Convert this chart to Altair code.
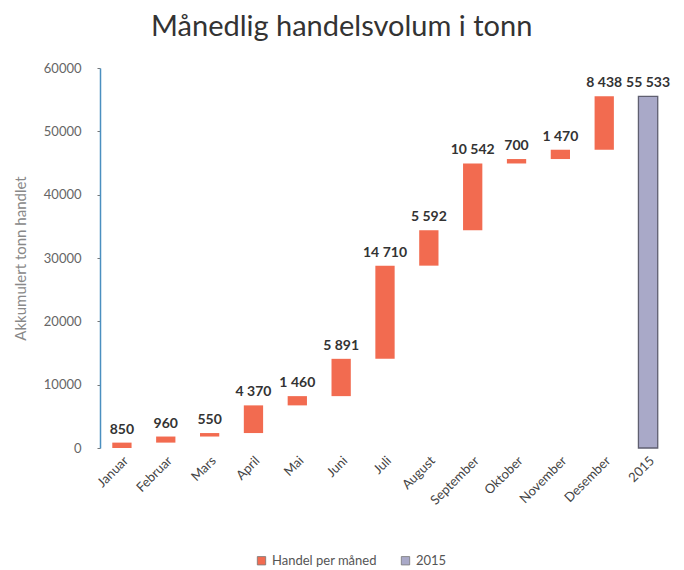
import altair as alt
import pandas as pd

months = ["Januar", "Februar", "Mars", "April", "Mai", "Juni", "Juli", "August",
          "September", "Oktober", "November", "Desember"]
monthly = [850, 960, 550, 4370, 1460, 5891, 14710, 5592, 10542, 700, 1470, 8438]
total_label = "2015"
total_value = 55533
series_names = ["Handel per måned", "2015"]
colors = ["#f26b50", "#a9a9c8"]
y_ticks = [0, 10000, 20000, 30000, 40000, 50000, 60000]


def fmt(v):
    return f"{v:,}".replace(",", " ")


rows = []
cum = 0
for m, v in zip(months, monthly):
    rows.append({"cat": m, "start": cum, "end": cum + v, "top": cum + v,
                 "label": fmt(v), "type": series_names[0]})
    cum += v
rows.append({"cat": total_label, "start": 0, "end": total_value, "top": total_value,
             "label": fmt(total_value), "type": series_names[1]})
df = pd.DataFrame(rows)
order = months + [total_label]

FONT = "Lato"

x = alt.X("cat:N", sort=order, title=None,
          scale=alt.Scale(paddingInner=0.56, paddingOuter=0.28),
          axis=alt.Axis(labelAngle=-45, labelFont=FONT, labelFontSize=13,
                        labelColor="#444444", domain=False, ticks=False, labelPadding=6))
y = alt.Y("start:Q", title="Akkumulert tonn handlet",
          scale=alt.Scale(domain=[0, 60000], nice=False),
          axis=alt.Axis(values=y_ticks, format="d", grid=False, domainColor="#4a8fc0",
                        domainWidth=1.5, tickColor="#777777", tickSize=3, labelFont=FONT,
                        labelFontSize=13, labelColor="#666666", titleFont=FONT,
                        titleFontSize=15, titleFontWeight="normal", titleColor="#888888",
                        titlePadding=15, labelPadding=16))

bars = alt.Chart(df).mark_bar(stroke="#5f5f70", strokeWidth=0).encode(
    x=x,
    y=y,
    y2="end:Q",
    color=alt.Color("type:N", scale=alt.Scale(domain=series_names, range=colors),
                    legend=alt.Legend(title=None, orient="none", direction="horizontal",
                                      legendX=155, legendY=486,
                                      symbolType="square", symbolSize=70,
                                      symbolStrokeColor="#777777", symbolStrokeWidth=0.8,
                                      labelFont=FONT, labelFontSize=13, labelColor="#555555",
                                      columnPadding=22)),
    strokeWidth=alt.condition(alt.datum.type == "2015", alt.value(1.3), alt.value(0)),
)

labels = alt.Chart(df).mark_text(dy=-13, font=FONT, fontSize=14, fontWeight="bold",
                                 color="#333333").encode(
    x=alt.X("cat:N", sort=order),
    y=alt.Y("top:Q"),
    text="label:N",
)

chart = (bars + labels).properties(
    width=570, height=380, background="white",
    title=alt.TitleParams("Månedlig handelsvolum i tonn", font=FONT, fontSize=29,
                          fontWeight="normal", color="#333333", anchor="middle",
                          frame="bounds", offset=20),
).configure_view(strokeWidth=0, stroke=None)

chart.save("out.html", embed_options={"renderer": "svg", "actions": False})
